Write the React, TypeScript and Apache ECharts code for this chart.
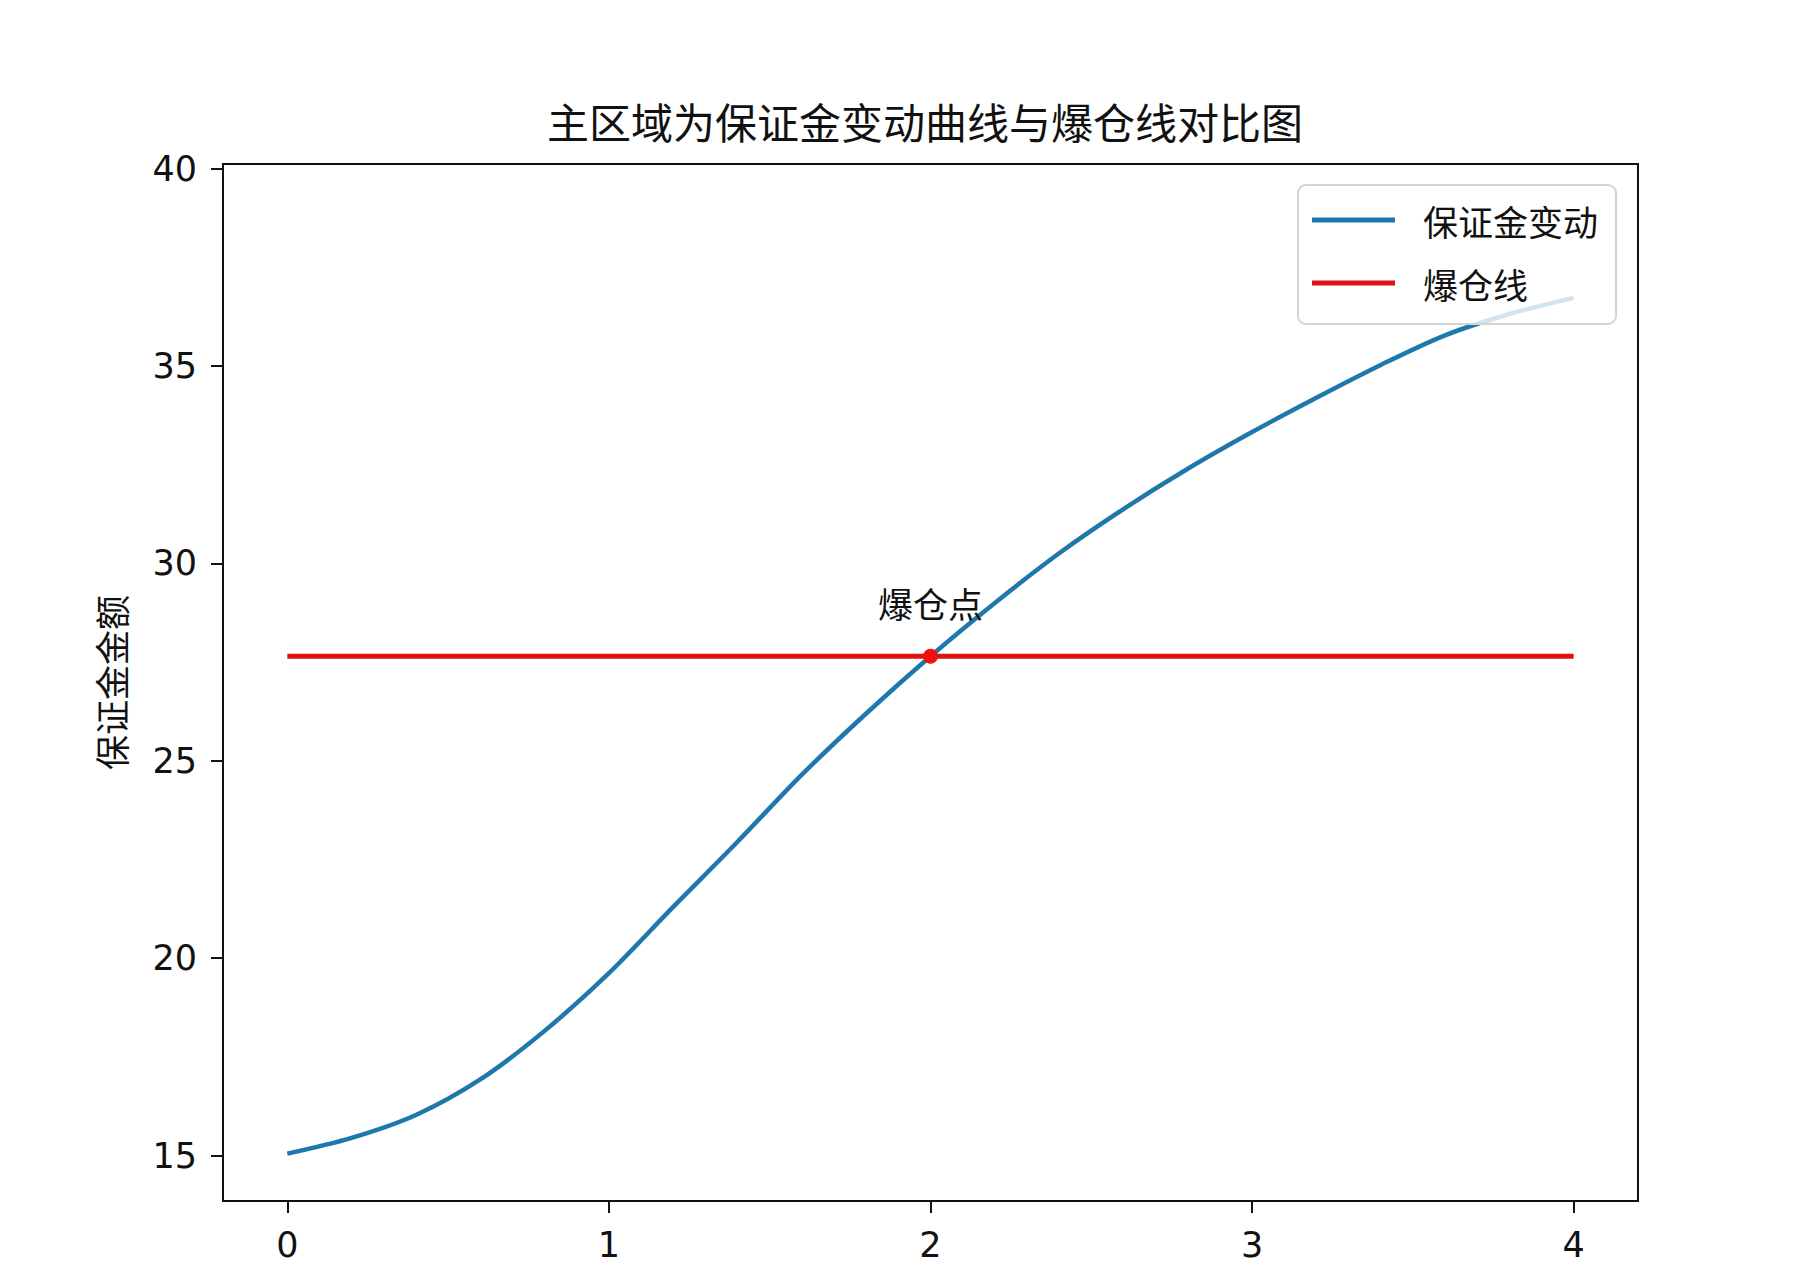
import React, { useEffect, useRef } from "react";
import * as echarts from "echarts";

const titleText = "主区域为保证金变动曲线与爆仓线对比图";
const yAxisName = "保证金金额";
const seriesMarginName = "保证金变动";
const seriesBreachName = "爆仓线";
const breachPointLabel = "爆仓点";

const timeValues = [0, 0.2, 0.4, 0.6, 0.8, 1.0, 1.2, 1.4, 1.6, 1.8, 2.0, 2.2, 2.4, 2.6, 2.8, 3.0, 3.2, 3.4, 3.6, 3.8, 4.0];
const marginValues = [15.05, 15.45, 16.03, 16.93, 18.16, 19.62, 21.3, 22.95, 24.65, 26.2, 27.65, 29.0, 30.26, 31.38, 32.4, 33.33, 34.2, 35.03, 35.78, 36.32, 36.73];
const breachX = [0, 4];
const breachLevel = 27.65;
const breachPointX = 2;
const xTicks = [0, 1, 2, 3, 4];
const yTicks = [15, 20, 25, 30, 35, 40];

const NUM_FONT = "DejaVu Sans, Noto Sans CJK SC, sans-serif";
const CJK_FONT = "Noto Sans CJK SC, DejaVu Sans, sans-serif";

export default function App() {
  const ref = useRef<HTMLDivElement>(null);
  useEffect(() => {
    if (!ref.current) return;
    const chart = echarts.init(ref.current, null, { renderer: "svg" });
    const marginData = timeValues.map((t, i) => [t, marginValues[i]]);
    const breachData = breachX.map((t) => [t, breachLevel]);
    chart.setOption({
      animation: false,
      backgroundColor: "#ffffff",
      title: {
        text: titleText,
        left: 920,
        textAlign: "center",
        top: 94,
        textStyle: { fontFamily: CJK_FONT, fontSize: 42, fontWeight: "normal", color: "#111" },
      },
      grid: {
        left: 223,
        top: 164,
        right: 173,
        bottom: 78,
        show: true,
        borderColor: "#111",
        borderWidth: 2,
        backgroundColor: "transparent",
      },
      legend: {
        orient: "vertical",
        left: 1298,
        top: 185,
        padding: [15, 18, 21, 14],
        itemGap: 23,
        itemWidth: 83,
        itemHeight: 5,
        icon: "rect",
        backgroundColor: "rgba(255,255,255,0.8)",
        borderColor: "#d4d4d4",
        borderWidth: 2,
        borderRadius: 8,
        data: [seriesMarginName, seriesBreachName],
        textStyle: { fontFamily: CJK_FONT, fontSize: 35, color: "#111", lineHeight: 40, padding: [0, 0, 0, 23] },
      },
      xAxis: {
        type: "value",
        min: -0.2,
        max: 4.2,
        splitLine: { show: false },
        axisLine: { show: true, onZero: false, lineStyle: { color: "#111", width: 2 } },
        axisTick: { show: true, length: 12, lineStyle: { color: "#111", width: 2 }, customValues: xTicks },
        axisLabel: {
          customValues: xTicks,
          margin: 26,
          fontFamily: NUM_FONT,
          fontSize: 35,
          color: "#111",
        },
      },
      yAxis: {
        type: "value",
        min: 13.85,
        max: 40.12,
        name: yAxisName,
        nameLocation: "middle",
        nameRotate: 90,
        nameGap: 95,
        nameTextStyle: { fontFamily: CJK_FONT, fontSize: 35, color: "#111" },
        splitLine: { show: false },
        axisLine: { show: true, onZero: false, lineStyle: { color: "#111", width: 2 } },
        axisTick: { show: true, length: 12, lineStyle: { color: "#111", width: 2 }, customValues: yTicks },
        axisLabel: {
          customValues: yTicks,
          margin: 26,
          fontFamily: NUM_FONT,
          fontSize: 35,
          color: "#111",
        },
      },
      series: [
        {
          name: seriesMarginName,
          type: "line",
          data: marginData,
          smooth: 0.3,
          showSymbol: false,
          symbol: "none",
          lineStyle: { color: "#1f78ab", width: 4.5 },
          itemStyle: { color: "#1f78ab" },
          z: 3,
        },
        {
          name: seriesBreachName,
          type: "line",
          data: breachData,
          showSymbol: false,
          symbol: "none",
          lineStyle: { color: "#e01212", width: 5 },
          itemStyle: { color: "#e01212" },
          z: 2,
        },
        {
          name: "point",
          type: "scatter",
          data: [[breachPointX, breachLevel]],
          symbolSize: 15,
          itemStyle: { color: "#f01010", opacity: 1 },
          label: {
            show: true,
            position: "top",
            distance: 29,
            formatter: breachPointLabel,
            fontFamily: CJK_FONT,
            fontSize: 35,
            color: "#111",
          },
          z: 4,
        },
      ],
    });
    return () => chart.dispose();
  }, []);
  return (
    <div
      ref={ref}
      style={{ position: "absolute", left: 0, top: 0, width: 1811, height: 1279 }}
    />
  );
}
